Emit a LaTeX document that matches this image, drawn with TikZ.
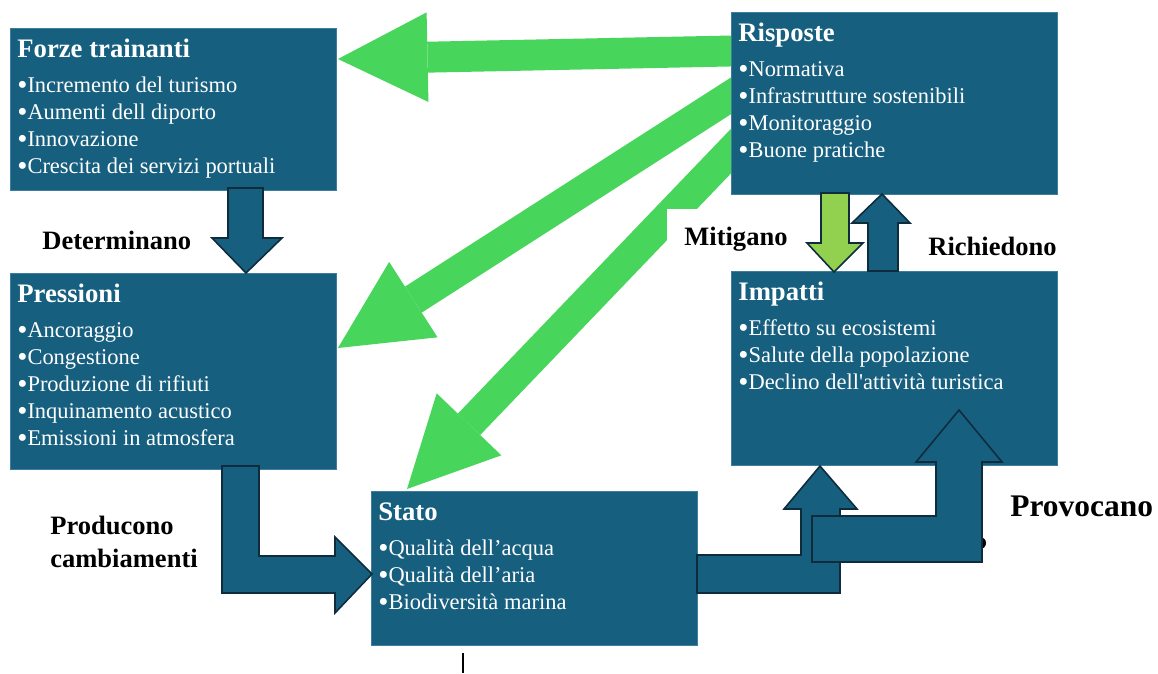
\documentclass[tikz,border=0pt]{standalone}
\usepackage{fontspec}
\setmainfont{Liberation Serif}[Ligatures=TeXOff]
\usetikzlibrary{calc, positioning, arrows.meta, backgrounds}
\definecolor{boxblue}{HTML}{175F7F}
\definecolor{boxedge}{HTML}{3E7E9C}
\definecolor{arrowedge}{HTML}{0F2C3D}
\definecolor{respgreen}{HTML}{48D55B}
\definecolor{mitgreen}{HTML}{92D050}
\newcommand{\bul}{\raisebox{-0.08em}{\fontsize{16.5}{15}\selectfont •}}
\tikzstyle{panel}=[fill=boxblue, draw=boxedge, line width=0.5pt, inner sep=0pt, outer sep=0pt, anchor=north west, minimum width=6.52cm]
\tikzstyle{boxtitle}=[text=white, font=\bfseries\fontsize{15.2}{18}\selectfont, anchor=base west, inner sep=0pt]
\tikzstyle{boxitem}=[text=white, font=\fontsize{12.8}{15}\selectfont, anchor=base west, inner sep=0pt]
\tikzstyle{lbl}=[font=\bfseries\fontsize{15.1}{18.7}\selectfont, anchor=base west, inner sep=0pt, align=left]
\tikzstyle{greenarrow}=[draw=respgreen, line width=17.6pt, -{Triangle[length=51pt, width=51pt, line width=0pt]}]
\tikzstyle{blockarrow}=[fill=boxblue, draw=arrowedge, line width=0.9pt]

\begin{document}
\begin{tikzpicture}[x=0.02cm, y=-0.02cm]
\useasboundingbox (0,0) rectangle (1158,673);

% the five boxes
\node[panel, minimum height=3.24cm] (forze) at (10,28) {};
\node[panel, minimum height=3.92cm] (pressioni) at (10,273) {};
\node[panel, minimum height=3.08cm] (stato) at (371,491) {};
\node[panel, minimum height=3.88cm] (impatti) at (731,271) {};
\node[panel, minimum height=3.64cm] (risposte) at (731,12) {};

\node[boxtitle] (forze-t) at ($(forze.north west)+(7,29.5)$) {Forze trainanti};
\foreach \t [count=\i from 0] in {Incremento del turismo, Aumenti dell diporto, Innovazione, Crescita dei servizi portuali}
  \node[boxitem] (forze-\i) at ($(forze.north west)+(7,64.5+27*\i)$) {\bul\t};

\node[boxtitle] (pressioni-t) at ($(pressioni.north west)+(7,29.5)$) {Pressioni};
\foreach \t [count=\i from 0] in {Ancoraggio, Congestione, Produzione di rifiuti, Inquinamento acustico, Emissioni in atmosfera}
  \node[boxitem] (pressioni-\i) at ($(pressioni.north west)+(7,64.5+27*\i)$) {\bul\t};

\node[boxtitle] (stato-t) at ($(stato.north west)+(7,29.5)$) {Stato};
\foreach \t [count=\i from 0] in {Qualità dell’acqua, Qualità dell’aria, Biodiversità marina}
  \node[boxitem] (stato-\i) at ($(stato.north west)+(7,64.5+27*\i)$) {\bul\t};

\node[boxtitle] (impatti-t) at ($(impatti.north west)+(7,29.5)$) {Impatti};
\foreach \t [count=\i from 0] in {Effetto su ecosistemi, Salute della popolazione, Declino dell'attività turistica}
  \node[boxitem] (impatti-\i) at ($(impatti.north west)+(7,64.5+27*\i)$) {\bul\t};

\node[boxtitle] (risposte-t) at ($(risposte.north west)+(7,29.5)$) {Risposte};
\foreach \t [count=\i from 0] in {Normativa, Infrastrutture sostenibili, Monitoraggio, Buone pratiche}
  \node[boxitem] (risposte-\i) at ($(risposte.north west)+(7,64.5+27*\i)$) {\bul\t};

% green arrows from Risposte
\begin{scope}[on background layer]
\draw[greenarrow] ($(risposte.north west)+(49,38)$) -- ($(forze.north east)+(2,31)$);
\draw[greenarrow] ($(risposte.north west)+(48,53)$) -- ($(pressioni.north east)+(2,75)$);
\draw[greenarrow] ($(risposte.north west)+(48,89)$) -- ($(stato.north west)+(36,-2)$);
\end{scope}

% block arrows
\draw[blockarrow] (228,188) -- (263,188) -- (263,238) -- (282,238) -- (246,273) -- (212,238) -- (228,238) -- cycle;
\draw[blockarrow] (222,466) -- (259,466) -- (259,556) -- (335,556) -- (335,537) -- (372,574) -- (335,613) -- (335,593) -- (222,593) -- cycle;
\draw[blockarrow] (697,555) -- (801,555) -- (801,509) -- (784,509) -- (820,466) -- (857,509) -- (840,509) -- (840,593) -- (697,593) -- cycle;
\fill (980,543) circle (6);
\draw[blockarrow] (812,516) -- (936,516) -- (936,462) -- (916,462) -- (959,410) -- (1002,462) -- (982,462) -- (982,562) -- (812,562) -- cycle;
\draw[blockarrow, fill=mitgreen] (821,193) -- (849,193) -- (849,243) -- (863,243) -- (834,272) -- (807,243) -- (821,243) -- cycle;
\draw[blockarrow] (868,271) -- (898,271) -- (898,223) -- (910,223) -- (882,194) -- (852,223) -- (868,223) -- cycle;

% labels
\node[lbl] (determinano) at (42,249) {Determinano};
\node[lbl, fill=white, anchor=north west, inner xsep=0.34cm, inner ysep=0.36cm] (mitigano) at (667,209) {Mitigano};
\node[lbl] (richiedono) at (928,255) {Richiedono};
\node[lbl] (producono) at (50,567) {Producono\\cambiamenti};
\node[lbl, font=\bfseries\fontsize{17.9}{21}\selectfont] (provocano) at (1010,516) {Provocano};
\draw[line width=0.8pt] (463,653) -- (463,673);
\end{tikzpicture}
\end{document}
